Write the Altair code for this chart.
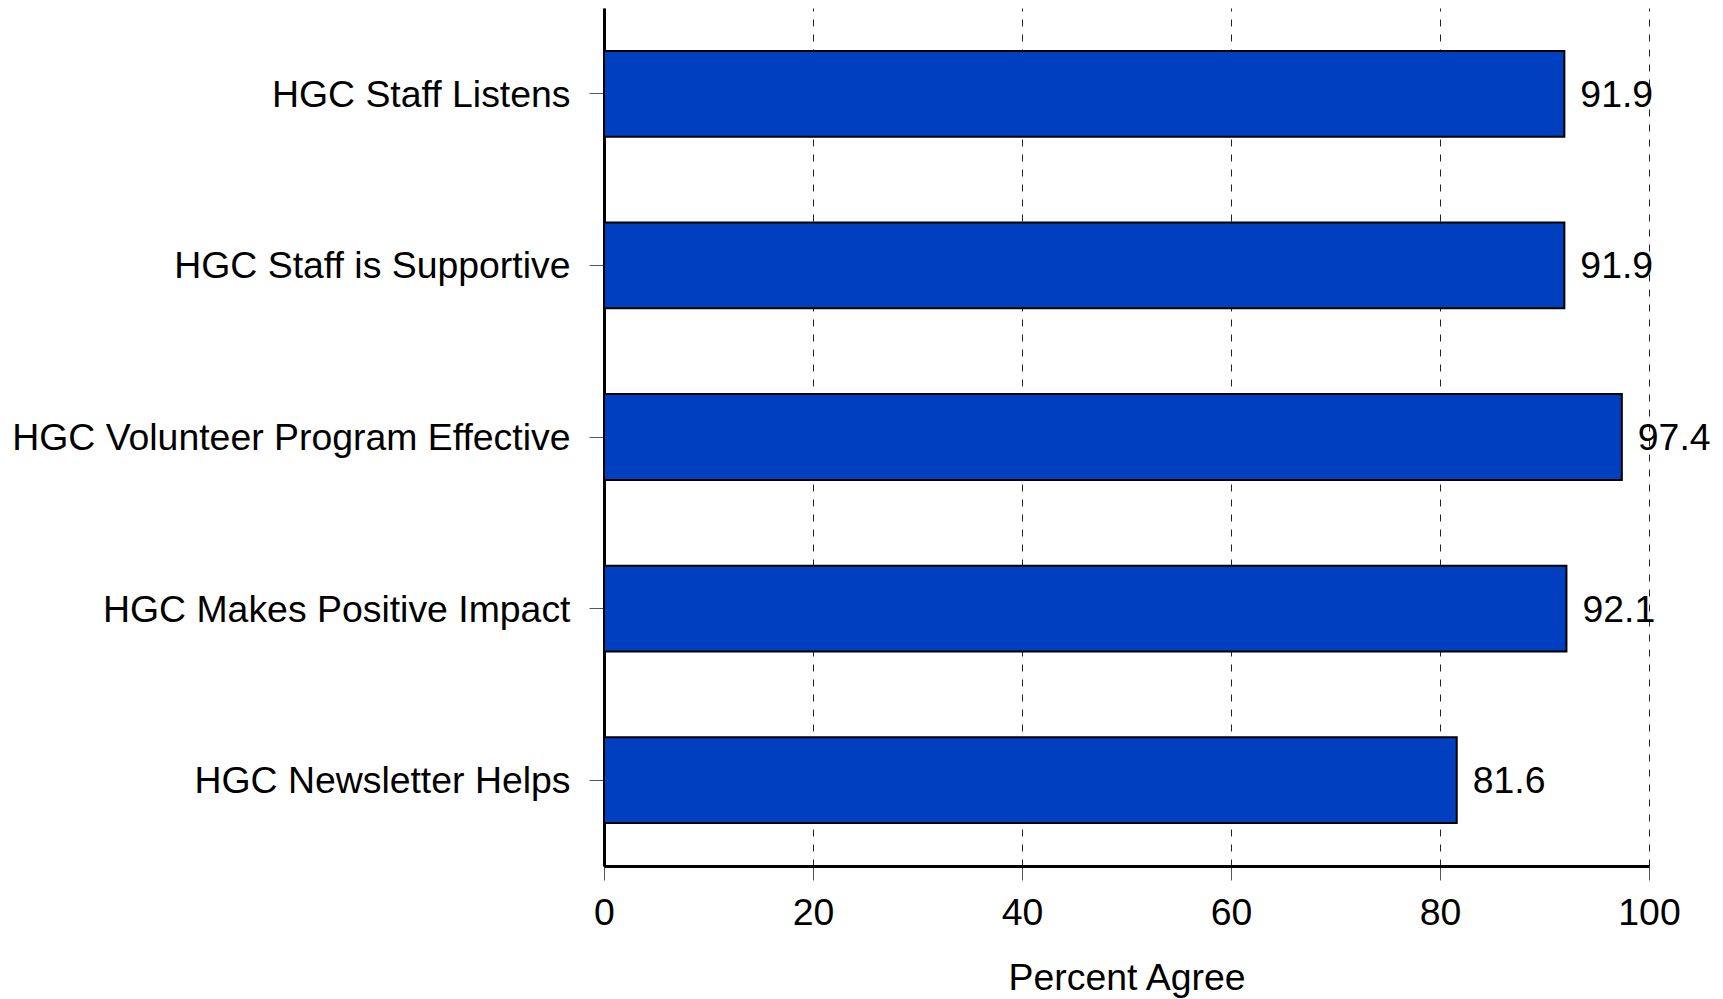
import altair as alt
import pandas as pd

categories = [
    "HGC Staff Listens",
    "HGC Staff is Supportive",
    "HGC Volunteer Program Effective",
    "HGC Makes Positive Impact",
    "HGC Newsletter Helps",
]
values = [91.9, 91.9, 97.4, 92.1, 81.6]
x_ticks = [0, 20, 40, 60, 80, 100]

df = pd.DataFrame({"item": categories, "pct": values})
df["label"] = df["pct"].map(lambda v: f"{v:.1f}")

FONT = "Liberation Sans"
FS = 37.4

y_enc = alt.Y(
    "item:N",
    sort=categories,
    title=None,
    scale=alt.Scale(paddingInner=0.5, paddingOuter=0.25),
    axis=alt.Axis(
        labelFont=FONT, labelFontSize=FS, labelColor="black",
        labelPadding=19, labelOffset=2, tickSize=15, tickColor="#555", tickWidth=1,
        domainColor="black", domainWidth=3, grid=False,
        labelLimit=0,
    ),
)

bars = alt.Chart(df).mark_bar(
    color="#0040C0", stroke="black", strokeWidth=2
).encode(
    x=alt.X(
        "pct:Q",
        title="Percent Agree",
        scale=alt.Scale(domain=[0, 100], nice=False),
        axis=alt.Axis(
            values=x_ticks, labelFont=FONT, labelFontSize=FS, labelColor="black",
            labelPadding=14, labelFlush=False, tickSize=14, tickColor="#555", tickWidth=1,
            domainColor="black", domainWidth=3,
            grid=True, gridColor="#222", gridDash=[7, 8], gridWidth=1,
            titleFont=FONT, titleFontSize=FS, titleFontWeight="normal",
            titleColor="black", titlePadding=28,
        ),
    ),
    y=y_enc,
)

text = alt.Chart(df).mark_text(
    align="left", baseline="middle", dx=16, dy=2, font=FONT, fontSize=FS, color="black"
).encode(
    x="pct:Q",
    y=alt.Y("item:N", sort=categories),
    text="label:N",
)

chart = (bars + text).properties(
    width=1045,
    height=858,
    autosize=alt.AutoSizeParams(type="none"),
    padding={"left": 596, "top": 0, "right": 66, "bottom": 133},
).configure_view(stroke=None)

chart.save("out.html", embed_options={"renderer": "svg", "actions": False})
